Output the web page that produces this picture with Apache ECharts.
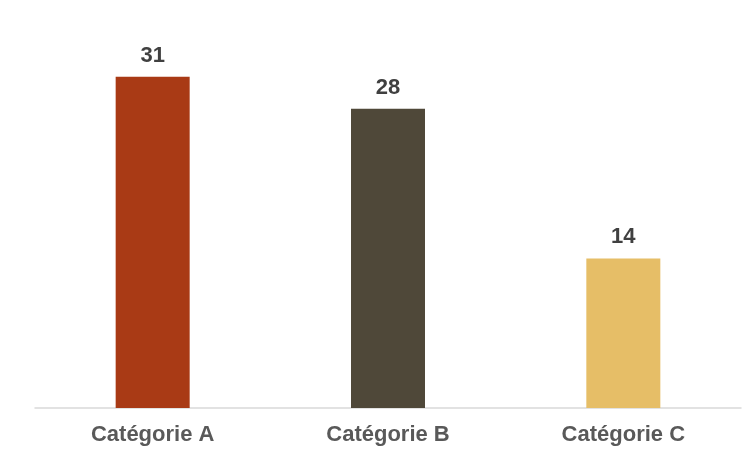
<!DOCTYPE html>
<html><head><meta charset="utf-8">
<script src="https://cdn.jsdelivr.net/npm/echarts@6/dist/echarts.min.js"></script>
<style>html,body{margin:0;padding:0;background:#fff}#c{width:749px;height:455px}</style>
</head><body><div id="c"></div>
<script>
const categories = ["Catégorie A", "Catégorie B", "Catégorie C"];
const values = [31, 28, 14];
const colors = ["#A93A15", "#4F4839", "#E6BE67"];

const chart = echarts.init(document.getElementById('c'), null, {renderer: 'canvas'});
chart.setOption({
  backgroundColor: '#ffffff',
  animation: false,
  grid: {left: 35, right: 8, top: 34, bottom: 47},
  xAxis: {
    type: 'category',
    data: categories,
    axisLine: {lineStyle: {color: '#D9D9D9', width: 1.5}},
    axisTick: {show: false},
    axisLabel: {margin: 16, color: '#595959', fontFamily: 'Liberation Sans, Arial, sans-serif', fontWeight: 'bold', fontSize: 22}
  },
  yAxis: {
    type: 'value', min: 0, max: 35, show: false,
    splitLine: {show: false}
  },
  series: [{
    type: 'bar',
    barWidth: 74,
    data: values.map((v, i) => ({value: v, itemStyle: {color: colors[i]}})),
    label: {show: true, position: 'top', distance: 10, color: '#404040', fontFamily: 'Liberation Sans, Arial, sans-serif', fontWeight: 'bold', fontSize: 22}
  }]
});
</script></body></html>
